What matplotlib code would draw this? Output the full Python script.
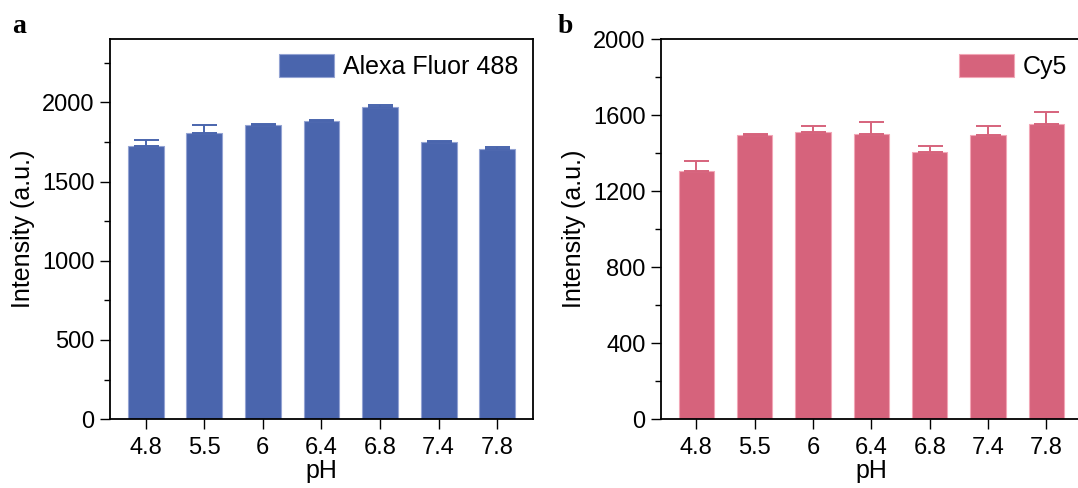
import matplotlib
matplotlib.use("Agg")
import matplotlib.pyplot as plt
from matplotlib.ticker import MultipleLocator

plt.rcParams["font.family"] = ["Liberation Sans", "DejaVu Sans"]

# ---------------------------------------------------------------------------
# Data
# ---------------------------------------------------------------------------
ph_labels = ["4.8", "5.5", "6", "6.4", "6.8", "7.4", "7.8"]

alexa_mean = [1726, 1804, 1857, 1882, 1972, 1749, 1708]
alexa_err = [34, 54, 9, 9, 13, 7, 10]

cy5_mean = [1305, 1493, 1512, 1503, 1405, 1493, 1553]
cy5_err = [53, 10, 30, 63, 32, 49, 63]

BLUE = "#4A65AD"
BLUE_EDGE = "#93A3D3"
PINK = "#D6637C"
PINK_EDGE = "#F2A6B6"


def draw_panel(ax, means, errs, color, edge, label, ymax, major, minor):
    x = list(range(len(ph_labels)))
    ax.bar(x, means, width=0.61, color=color, edgecolor=edge, linewidth=0.8,
           label=label, zorder=2)
    ax.errorbar(x, means, yerr=[[0] * len(errs), errs], fmt="none",
                ecolor=color, elinewidth=1.4, capsize=9, capthick=1.4, zorder=3)
    ax.set_xlim(-0.61, len(x) - 1 + 0.61)
    ax.set_ylim(0, ymax)
    ax.set_xticks(x, ph_labels)
    ax.yaxis.set_major_locator(MultipleLocator(major))
    ax.yaxis.set_minor_locator(MultipleLocator(minor))
    ax.tick_params(axis="both", which="major", direction="out", length=7,
                   width=1.0, labelsize=17, pad=4)
    ax.tick_params(axis="y", which="minor", direction="out", length=4, width=1.0)
    ax.tick_params(axis="x", which="major", pad=6)
    for s in ax.spines.values():
        s.set_linewidth(1.3)
    ax.set_xlabel("pH", fontsize=18, labelpad=0)
    ax.set_ylabel("Intensity (a.u.)", fontsize=18, labelpad=5)
    ax.legend(loc="upper right", fontsize=18, frameon=False, handlelength=2.2,
              handleheight=1.05, handletextpad=0.35, borderaxespad=0.3,
              borderpad=0.3)


fig = plt.figure(figsize=(10.78, 4.88), dpi=100)
ax_a = fig.add_axes([0.102, 0.141, 0.3924, 0.779])
ax_b = fig.add_axes([0.6129, 0.141, 0.3908, 0.779])

draw_panel(ax_a, alexa_mean, alexa_err, BLUE, BLUE_EDGE, "Alexa Fluor 488",
           2400, 500, 250)
draw_panel(ax_b, cy5_mean, cy5_err, PINK, PINK_EDGE, "Cy5", 2000, 400, 200)

serif = ["Liberation Serif", "DejaVu Serif"]
fig.text(0.011, 0.932, "a", fontsize=20, fontweight="bold", family=serif,
         va="baseline")
fig.text(0.517, 0.932, "b", fontsize=20, fontweight="bold", family=serif,
         va="baseline")

fig.savefig("out.png", dpi=100)
